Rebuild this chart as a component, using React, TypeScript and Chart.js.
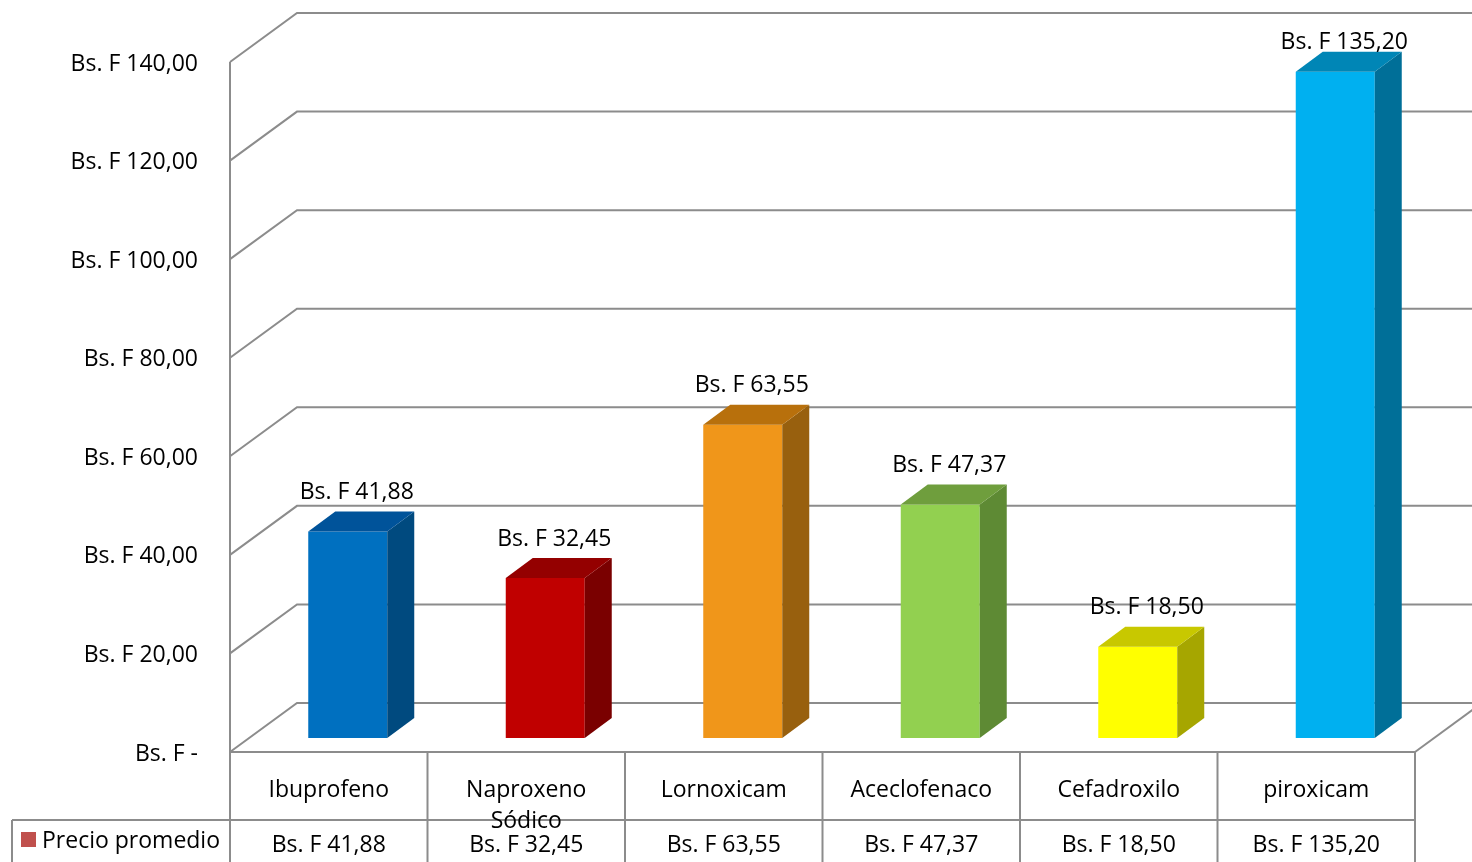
import { useEffect, useRef } from "react";
import { Chart, registerables } from "chart.js";

Chart.register(...registerables);

const categories: string[][] = [
  ["Ibuprofeno"],
  ["Naproxeno", "Sódico"],
  ["Lornoxicam"],
  ["Aceclofenaco"],
  ["Cefadroxilo"],
  ["piroxicam"],
];
const values: number[] = [41.88, 32.45, 63.55, 47.37, 18.5, 135.2];
const yTicks: number[] = [0, 20, 40, 60, 80, 100, 120, 140];
const seriesName = "Precio promedio";

const frontColors = ["#0070C0", "#C00000", "#F0961A", "#92D050", "#FFFF00", "#00B0F0"];
const topColors = ["#00539A", "#940000", "#B8700C", "#6F9E3D", "#C8C800", "#0086B6"];
const sideColors = ["#004A7F", "#7A0000", "#98600E", "#5E8A34", "#A6A600", "#006F98"];
const legendColor = "#C0504D";

const W = 1472;
const H = 862;
const FRONT = { dx: -19, dy: 14 };
const BACK = { dx: 48, dy: -35 };
const BAR_D = { dx: 27, dy: -20 };
const GRID = "#8c8c8c";
const FONT_FAMILY = '"Open Sans", "Noto Sans", sans-serif';
const FONT_SIZE = 23;

const fmt = (v: number) => (v === 0 ? "Bs. F -" : "Bs. F " + v.toFixed(2).replace(".", ","));

const threeD = {
  id: "threeD",
  beforeDatasetsDraw(chart: any) {
    const { ctx, chartArea: a, scales } = chart;
    const y = scales.y;
    ctx.save();
    ctx.strokeStyle = GRID;
    ctx.lineWidth = 2;
    const fx = a.left + FRONT.dx;
    const bx = a.left + BACK.dx;
    const rf = a.right + FRONT.dx;
    const rb = a.right + BACK.dx;
    for (const t of yTicks) {
      const py = y.getPixelForValue(t);
      ctx.beginPath();
      ctx.moveTo(fx, py + FRONT.dy);
      ctx.lineTo(bx, py + BACK.dy);
      ctx.lineTo(rb, py + BACK.dy);
      ctx.stroke();
    }
    const yTop = y.getPixelForValue(yTicks[yTicks.length - 1]);
    const y0 = y.getPixelForValue(0);
    ctx.beginPath();
    ctx.moveTo(fx, yTop + FRONT.dy);
    ctx.lineTo(fx, y0 + FRONT.dy);
    ctx.stroke();
    ctx.beginPath();
    ctx.moveTo(rf, y0 + FRONT.dy);
    ctx.lineTo(rb, y0 + BACK.dy);
    ctx.stroke();
    ctx.restore();
  },
  afterDatasetsDraw(chart: any) {
    const { ctx, chartArea: a, scales } = chart;
    const x = scales.x;
    const y = scales.y;
    const meta = chart.getDatasetMeta(0);
    ctx.save();
    ctx.font = `${FONT_SIZE}px ${FONT_FAMILY}`;
    // bar side and top faces + labels
    meta.data.forEach((bar: any, i: number) => {
      const { x: cx, y: top, base, width } = bar.getProps(["x", "y", "base", "width"], true);
      const l = cx - width / 2;
      const r = cx + width / 2;
      ctx.fillStyle = sideColors[i];
      ctx.beginPath();
      ctx.moveTo(r, top);
      ctx.lineTo(r + BAR_D.dx, top + BAR_D.dy);
      ctx.lineTo(r + BAR_D.dx, base + BAR_D.dy);
      ctx.lineTo(r, base);
      ctx.closePath();
      ctx.fill();
      ctx.fillStyle = topColors[i];
      ctx.beginPath();
      ctx.moveTo(l, top);
      ctx.lineTo(l + BAR_D.dx, top + BAR_D.dy);
      ctx.lineTo(r + BAR_D.dx, top + BAR_D.dy);
      ctx.lineTo(r, top);
      ctx.closePath();
      ctx.fill();
      ctx.fillStyle = "#000";
      ctx.textAlign = "center";
      ctx.textBaseline = "middle";
      const ly = Math.max(42, top + BAR_D.dy - 19);
      ctx.fillText(fmt(values[i]), cx + 9, ly);
    });

    // y labels
    const fx = a.left + FRONT.dx;
    ctx.textAlign = "right";
    ctx.textBaseline = "middle";
    ctx.fillStyle = "#000";
    for (const t of yTicks) {
      ctx.fillText(fmt(t), fx - 32, y.getPixelForValue(t) + FRONT.dy + 2);
    }

    // data table
    const slot = (a.right - a.left) / categories.length;
    const tTop = y.getPixelForValue(0) + FRONT.dy;
    const r1 = tTop + 68;
    const legendLeft = 12;
    const rightEdge = a.right + FRONT.dx;
    ctx.strokeStyle = GRID;
    ctx.lineWidth = 2;
    ctx.beginPath();
    ctx.moveTo(fx, tTop);
    ctx.lineTo(rightEdge, tTop);
    ctx.moveTo(legendLeft, r1);
    ctx.lineTo(rightEdge, r1);
    ctx.moveTo(legendLeft, r1);
    ctx.lineTo(legendLeft, H);
    for (let i = 0; i <= categories.length; i++) {
      const cx = x.getPixelForValue(Math.min(i, categories.length - 1)) + FRONT.dx + (i === categories.length ? slot / 2 : -slot / 2);
      ctx.moveTo(cx, tTop);
      ctx.lineTo(cx, H);
    }
    ctx.stroke();

    ctx.textAlign = "center";
    ctx.textBaseline = "middle";
    categories.forEach((lines, i) => {
      const cx = x.getPixelForValue(i) + FRONT.dx;
      lines.forEach((ln, k) => ctx.fillText(ln, cx, tTop + 38 + k * 31));
      ctx.fillText(fmt(values[i]), cx, r1 + 25);
    });

    // legend cell
    ctx.fillStyle = legendColor;
    ctx.fillRect(21, r1 + 12, 15, 15);
    ctx.fillStyle = "#000";
    ctx.textAlign = "left";
    ctx.fillText(seriesName, 42, r1 + 21);
    ctx.restore();
  },
};

export default function App() {
  const ref = useRef<HTMLCanvasElement>(null);
  useEffect(() => {
    document.body.style.margin = "0";
    const chart = new Chart(ref.current!, {
      type: "bar",
      data: {
        labels: categories.map((c) => c.join(" ")),
        datasets: [
          {
            label: seriesName,
            data: values,
            backgroundColor: frontColors,
            borderWidth: 0,
            barPercentage: 0.4,
            categoryPercentage: 1,
          },
        ],
      },
      options: {
        responsive: false,
        animation: false,
        layout: { padding: { left: 249, right: 38, top: 48, bottom: 124 } },
        scales: {
          x: { display: false },
          y: { display: false, min: 0, max: 140 },
        },
        plugins: { legend: { display: false }, tooltip: { enabled: false } },
      },
      plugins: [threeD],
    });
    return () => chart.destroy();
  }, []);
  return (
    <div style={{ width: W, height: H, background: "#fff" }}>
      <canvas ref={ref} width={W} height={H} style={{ display: "block" }} />
    </div>
  );
}
